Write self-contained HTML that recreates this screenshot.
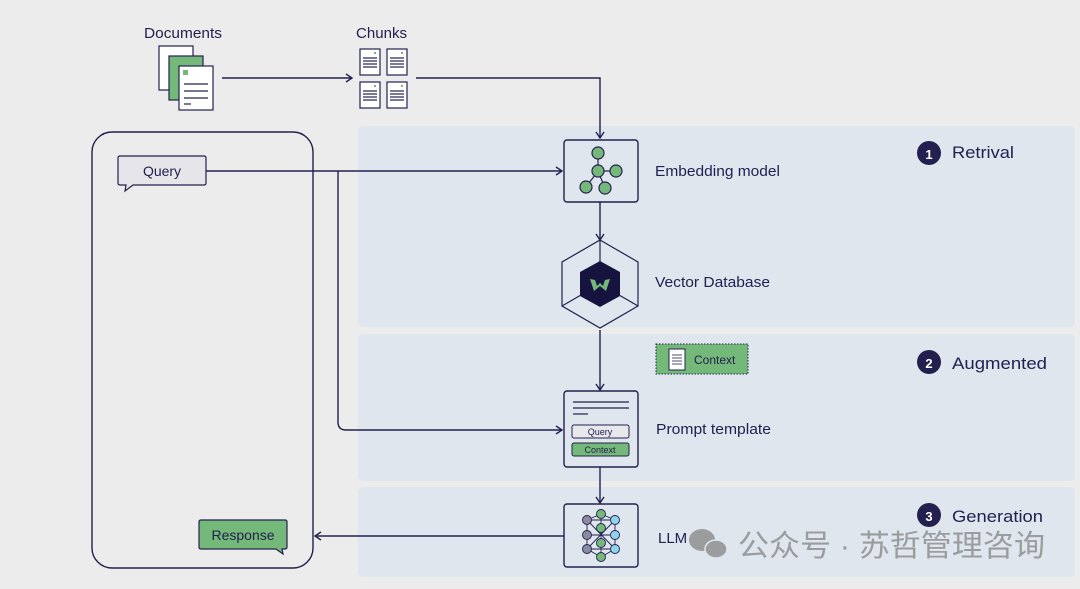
<!DOCTYPE html>
<html><head><meta charset="utf-8"><style>
html,body{margin:0;padding:0;background:#ececec;}
svg{display:block;font-family:"Liberation Sans","Noto Sans CJK SC",sans-serif;}
</style></head><body>
<svg width="1080" height="589" viewBox="0 0 1080 589" xmlns="http://www.w3.org/2000/svg">
<defs>
<marker id="ar" markerWidth="10" markerHeight="10" refX="8" refY="5" orient="auto" markerUnits="userSpaceOnUse">
<path d="M2,1 L8,5 L2,9" fill="none" stroke="#23204f" stroke-width="1.4"/>
</marker>
</defs>
<rect width="1080" height="589" fill="#ececec"/>
<rect x="358" y="126" width="717" height="201" rx="5" fill="#dfe6ee"/>
<rect x="358" y="334" width="717" height="147" rx="5" fill="#dfe6ee"/>
<rect x="358" y="487" width="717" height="90" rx="5" fill="#dfe6ee"/>

<g fill="#23204f" font-size="15">
<text x="144" y="38" textLength="78" lengthAdjust="spacingAndGlyphs">Documents</text>
<text x="356" y="38" textLength="51" lengthAdjust="spacingAndGlyphs">Chunks</text>
<text x="655" y="176" textLength="125" lengthAdjust="spacingAndGlyphs">Embedding model</text>
<text x="655" y="287" textLength="115" lengthAdjust="spacingAndGlyphs">Vector Database</text>
<text x="656" y="434" textLength="115" lengthAdjust="spacingAndGlyphs">Prompt template</text>
<text x="658" y="543">LLM</text>
</g>
<g font-size="17" fill="#23204f">
<circle cx="929" cy="153" r="12"/><text x="929" y="159" fill="#fff" font-size="13" font-weight="bold" text-anchor="middle">1</text>
<text x="952" y="158" textLength="62" lengthAdjust="spacingAndGlyphs">Retrival</text>
<circle cx="929" cy="362" r="12"/><text x="929" y="368" fill="#fff" font-size="13" font-weight="bold" text-anchor="middle">2</text>
<text x="952" y="369" textLength="95" lengthAdjust="spacingAndGlyphs">Augmented</text>
<circle cx="929" cy="515" r="12"/><text x="929" y="521" fill="#fff" font-size="13" font-weight="bold" text-anchor="middle">3</text>
<text x="952" y="522" textLength="91" lengthAdjust="spacingAndGlyphs">Generation</text>
</g>

<g stroke="#23204f" stroke-width="1.2">
<rect x="159" y="46" width="34" height="44" fill="#fff"/>
<rect x="169" y="56" width="34" height="44" fill="#74b97a"/>
<rect x="179" y="66" width="34" height="44" fill="#fff"/>
<line x1="184" y1="84" x2="208" y2="84"/><line x1="184" y1="91" x2="208" y2="91"/><line x1="184" y1="98" x2="208" y2="98"/><line x1="184" y1="104" x2="191" y2="104"/>
</g>
<rect x="183" y="70" width="5" height="5" fill="#74b97a"/>
<g>
<g id="ch" stroke="#23204f" stroke-width="1.2">
<rect x="360" y="49" width="20" height="26" fill="#fff"/>
<line x1="363" y1="58" x2="377" y2="58"/><line x1="363" y1="61" x2="377" y2="61"/><line x1="363" y1="64" x2="377" y2="64"/><line x1="363" y1="67" x2="377" y2="67"/>
<rect x="374" y="52" width="2" height="2" fill="#74b97a" stroke="none"/>
</g>
<use href="#ch" x="27"/><use href="#ch" y="33"/><use href="#ch" x="27" y="33"/>
</g>

<g stroke="#23204f" stroke-width="1.4" fill="none">
<line x1="222" y1="78" x2="352" y2="78" marker-end="url(#ar)"/>
<path d="M416,78 H600 V138" marker-end="url(#ar)"/>
<rect x="92" y="132" width="221" height="436" rx="20"/>
<line x1="206" y1="171" x2="562" y2="171" marker-end="url(#ar)"/>
<path d="M338,171 V422 Q338,430 346,430 H562" marker-end="url(#ar)"/>
<line x1="600" y1="202" x2="600" y2="240" marker-end="url(#ar)"/>
<line x1="600" y1="330" x2="600" y2="390" marker-end="url(#ar)"/>
<line x1="600" y1="467" x2="600" y2="503" marker-end="url(#ar)"/>
<line x1="564" y1="536" x2="315" y2="536" marker-end="url(#ar)"/>
</g>

<path d="M120,156 H204 Q206,156 206,158 V183 Q206,185 204,185 H133 L125,191 L126,185 H120 Q118,185 118,183 V158 Q118,156 120,156 Z" fill="#e6e6ea" stroke="#23204f" stroke-width="1.2"/>
<text x="162" y="176" font-size="14" fill="#23204f" text-anchor="middle">Query</text>
<path d="M201,520 H285 Q287,520 287,522 V547 Q287,549 285,549 H282 L283,554 L276,549 H201 Q199,549 199,547 V522 Q199,520 201,520 Z" fill="#74b97a" stroke="#23204f" stroke-width="1.2"/>
<text x="243" y="540" font-size="14" fill="#23204f" text-anchor="middle">Response</text>

<rect x="564" y="140" width="74" height="62" rx="3" fill="#dfe6ee" stroke="#23204f" stroke-width="1.4"/>
<g stroke="#23204f" stroke-width="1.2" fill="#74b97a">
<line x1="598" y1="153" x2="598" y2="171"/><line x1="598" y1="171" x2="616" y2="171"/><line x1="598" y1="171" x2="586" y2="187"/><line x1="598" y1="171" x2="605" y2="188"/>
<circle cx="598" cy="153" r="6"/><circle cx="598" cy="171" r="6"/><circle cx="616" cy="171" r="6"/><circle cx="586" cy="187" r="6"/><circle cx="605" cy="188" r="6"/>
</g>
<g stroke="#23204f" stroke-width="1.2" fill="none">
<polygon points="600,240 638,262 638,306 600,328 562,306 562,262"/>
<line x1="600" y1="240" x2="600" y2="262"/><line x1="562" y1="306" x2="581" y2="295"/><line x1="638" y1="306" x2="619" y2="295"/>
</g>
<polygon points="600,261 620,272 620,296 600,307 580,296 580,272" fill="#16133f"/>
<path d="M590,279 L594,291 L600,286 L606,291 L610,279 L605,280 L603,286 L600,283 L597,286 L595,280 Z" fill="#74b97a"/>

<rect x="656" y="344" width="92" height="30" fill="#74b97a" stroke="#23204f" stroke-width="1" stroke-dasharray="1.5,1.5"/>
<rect x="669" y="349" width="16" height="21" fill="#fff" stroke="#23204f" stroke-width="1"/>
<g stroke="#23204f" stroke-width="0.8"><line x1="672" y1="355" x2="682" y2="355"/><line x1="672" y1="358" x2="682" y2="358"/><line x1="672" y1="361" x2="682" y2="361"/><line x1="672" y1="364" x2="682" y2="364"/></g>
<text x="694" y="364" font-size="12" fill="#23204f">Context</text>

<rect x="564" y="391" width="74" height="76" rx="3" fill="#dfe6ee" stroke="#23204f" stroke-width="1.4"/>
<g stroke="#23204f" stroke-width="1.2"><line x1="573" y1="402" x2="629" y2="402"/><line x1="573" y1="408" x2="629" y2="408"/><line x1="573" y1="414" x2="588" y2="414"/></g>
<rect x="572" y="425" width="57" height="13" rx="2" fill="#e8e8ec" stroke="#23204f" stroke-width="1"/>
<text x="600" y="435" font-size="9" fill="#23204f" text-anchor="middle">Query</text>
<rect x="572" y="443" width="57" height="13" rx="2" fill="#74b97a" stroke="#23204f" stroke-width="1"/>
<text x="600" y="453" font-size="9" fill="#23204f" text-anchor="middle">Context</text>

<rect x="564" y="504" width="74" height="63" rx="3" fill="#dfe6ee" stroke="#23204f" stroke-width="1.4"/>
<g stroke="#23204f" stroke-width="0.9">
<path d="M587,520 V549 M601,514 V557 M615,520 V549 M587,520 H615 M587,535 H615 M587,549 H615 M601,514 L587,520 M601,514 L615,520 M601,557 L587,549 M601,557 L615,549 M587,520 L615,549 M615,520 L587,549"/>
<g fill="#8a8aa0"><circle cx="587" cy="520" r="4.5"/><circle cx="587" cy="535" r="4.5"/><circle cx="587" cy="549" r="4.5"/></g>
<g fill="#74b97a"><circle cx="601" cy="514" r="4.5"/><circle cx="601" cy="528" r="4.5"/><circle cx="601" cy="543" r="4.5"/><circle cx="601" cy="557" r="4.5"/></g>
<g fill="#8fd3ec"><circle cx="615" cy="520" r="4.5"/><circle cx="615" cy="535" r="4.5"/><circle cx="615" cy="549" r="4.5"/></g>
</g>

<g fill="#9a9c9e">
<ellipse cx="702" cy="540" rx="13" ry="11"/>
<ellipse cx="716" cy="549" rx="11" ry="9" stroke="#dfe6ee" stroke-width="1.5"/>
</g>
<text x="738" y="556" font-size="30" fill="#9a9c9e" textLength="307" lengthAdjust="spacingAndGlyphs">公众号 · 苏哲管理咨询</text>
</svg>
</body></html>
